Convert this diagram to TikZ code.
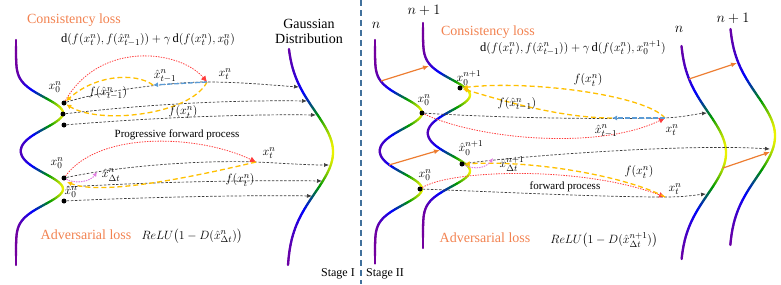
\documentclass[tikz,border=0pt]{standalone}
\usepackage{amsmath}
\usepackage{fontspec}
\setmainfont{Liberation Serif}
\usetikzlibrary{arrows.meta}
\definecolor{orgC}{RGB}{237,125,49}
\definecolor{orgT}{RGB}{242,130,80}
\definecolor{yelC}{RGB}{255,192,0}
\definecolor{redC}{RGB}{255,60,60}
\definecolor{bluC}{RGB}{91,155,213}
\definecolor{pnkC}{RGB}{225,125,225}
\definecolor{sepC}{RGB}{65,113,156}
\definecolor{blkC}{RGB}{60,60,60}
\newcommand{\setsegcolor}{%
  \pgfmathsetmacro{\myR}{(\myT<0.35) ? (0.45*(1-\myT/0.35)) : ((\myT<0.7) ? 0 : (0.92*(\myT-0.7)/0.3))}%
  \pgfmathsetmacro{\myG}{(\myT<0.35) ? 0 : ((\myT<0.7) ? (0.6*(\myT-0.35)/0.35) : (0.6+0.35*(\myT-0.7)/0.3))}%
  \pgfmathsetmacro{\myB}{(\myT<0.35) ? (0.62+0.38*\myT/0.35) : ((\myT<0.7) ? (1-(\myT-0.35)/0.35) : 0)}%
  \pgfmathsetmacro{\myR}{max(0,min(1,\myR))}%
  \pgfmathsetmacro{\myG}{max(0,min(1,\myG))}%
  \pgfmathsetmacro{\myB}{max(0,min(1,\myB))}%
  \definecolor{segc}{rgb}{\myR,\myG,\myB}%
}
% bimodal curve: #1 x0, #2 first nose y, #3 ytop, #4 ybottom
\newcommand{\bimodal}[4]{%
  \pgfmathtruncatemacro{\nseg}{(#4-#3)/1.5}%
  \foreach \k in {1,...,\nseg}{%
    \pgfmathsetmacro{\ya}{#3+(\k-1)*1.5}%
    \pgfmathsetmacro{\yb}{#3+\k*1.5}%
    \pgfmathsetmacro{\xa}{#1+47*(exp(max(-15,0-((\ya-#2)/22)^2))+exp(max(-15,0-((\ya-#2-76)/22)^2)))}%
    \pgfmathsetmacro{\xb}{#1+47*(exp(max(-15,0-((\yb-#2)/22)^2))+exp(max(-15,0-((\yb-#2-76)/22)^2)))}%
    \pgfmathsetmacro{\myT}{((\xa+\xb)/2-#1)/47}%
    \setsegcolor
    \draw[curvestyle, draw=segc] (\xa,\ya) -- (\xb,\yb);
  }%
}
% gaussian curve: #1 x0, #2 centre y, #3 ytop, #4 ybottom
\newcommand{\gausscurve}[4]{%
  \pgfmathtruncatemacro{\nseg}{(#4-#3)/1.5}%
  \foreach \k in {1,...,\nseg}{%
    \pgfmathsetmacro{\ya}{#3+(\k-1)*1.5}%
    \pgfmathsetmacro{\yb}{#3+\k*1.5}%
    \pgfmathsetmacro{\xa}{#1+46*exp(max(-15,0-((\ya-#2)/58)^2))}%
    \pgfmathsetmacro{\xb}{#1+46*exp(max(-15,0-((\yb-#2)/58)^2))}%
    \pgfmathsetmacro{\myT}{((\xa+\xb)/2-#1)/46}%
    \setsegcolor
    \draw[curvestyle, draw=segc] (\xa,\ya) -- (\xb,\yb);
  }%
}
\tikzset{
  curvestyle/.style={line width=2.3pt, line cap=round},
  blk/.style={draw=blkC, dash pattern=on 2.5pt off 1.6pt, line width=0.7pt, -{Latex[length=5pt,width=4pt]}},
  redd/.style={draw=redC, dash pattern=on 1.4pt off 1.2pt, line width=0.8pt, -{Latex[length=6pt,width=6pt]}},
  yel/.style={draw=yelC, dash pattern=on 5pt off 3pt, line width=1.3pt, -{Latex[length=5pt,width=5pt]}},
  blu/.style={draw=bluC, dash pattern=on 5pt off 2pt, line width=1.3pt, -{Latex[length=5pt,width=5pt]}},
  pnk/.style={draw=pnkC, dash pattern=on 1.5pt off 1pt, line width=1pt, -{Latex[length=4.5pt,width=4.5pt]}},
  org/.style={draw=orgC, line width=1.2pt, -{Latex[length=6pt,width=5pt]}},
  sepline/.style={draw=sepC, line width=1.6pt, dash pattern=on 6pt off 4pt},
  blackdot/.style={circle, fill=black, inner sep=0pt, minimum size=5pt},
  lbl/.style={font=\fontsize{13}{14}\selectfont, inner sep=0pt},
  small/.style={font=\fontsize{11}{12}\selectfont, inner sep=0pt},
  titleT/.style={font=\fontsize{14}{15}\selectfont, inner sep=0pt},
  formula/.style={font=\fontsize{12.5}{14}\selectfont, inner sep=0pt},
  nlbl/.style={font=\fontsize{14.5}{16}\selectfont, inner sep=0pt},
  stage/.style={font=\fontsize{12}{13}\selectfont, inner sep=0pt},
}
\begin{document}
\begin{tikzpicture}[x=1pt,y=-1pt]
\useasboundingbox (0,0) rectangle (781,284);

% ---------------- curves ----------------
\bimodal{16}{113}{40}{265}
\gausscurve{287}{152}{49}{265}
\bimodal{375}{113}{40}{264}
\bimodal{423}{95}{23}{249}
\gausscurve{680}{153}{46}{260}
\gausscurve{729}{136}{29}{245}

% ---------------- left panel ----------------
\node[titleT, text=orgT] (cl1) at (74,20) {Consistency loss};
\node[formula] (fm1) at (148,40) {$\mathrm{d}(f(x_t^n), f(\hat{x}_{t-1}^n)) + \gamma\,\mathrm{d}(f(x_t^n), x_0^n)$};
\node[titleT, align=center] (gd) at (309,31) {Gaussian\\Distribution};

\node[blackdot] (a1) at (64,103) {};
\node[blackdot] (a2) at (63,114) {};
\node[blackdot] (a3) at (64,125) {};
\coordinate (xt1) at (207,82);
\coordinate (xh1) at (153,85);
\coordinate (g1) at (299,87);
\coordinate (g2) at (307,101);
\coordinate (g3) at (316,115);

\draw[blk] (a1) .. controls (100,91) and (170,82) .. (xt1) .. controls (240,82) and (270,85) .. (g1);
\draw[blk] (a2) .. controls (150,104) and (230,100) .. (g2);
\draw[blk] (a3) .. controls (150,118) and (240,114) .. (g3);
\draw[redd] (a1) .. controls (100,40) and (180,50) .. (xt1);
\draw[yel] (xh1) .. controls (135,72) and (95,75) .. (a1);
\draw[yel] (xt1) .. controls (190,115) and (100,125) .. (a1);
\draw[blu] (xt1) -- (xh1);

\node[lbl] (lx01) at (55,87) {$x_0^n$};
\node[lbl] (lxh1) at (165,76) {$\hat{x}_{t-1}^n$};
\node[lbl] (lxt1) at (225,74) {$x_t^n$};
\node[lbl] (lfh1) at (108,93) {$f(\hat{x}_{t-1}^n)$};
\node[lbl] (lft1) at (183,112) {$f(x_t^n)$};
\node[small] (pfp) at (177,135) {Progressive forward process};

\node[blackdot] (b1) at (64,178) {};
\node[blackdot] (b3) at (64,201) {};
\coordinate (b2) at (67,187);
\coordinate (ye1) at (67,182);
\coordinate (xt2) at (256,162);
\coordinate (xd1) at (97,172);
\coordinate (g4) at (329,165);
\coordinate (g5) at (322,181);
\coordinate (g6) at (312,196);

\draw[blk] (b1) .. controls (120,166) and (200,160) .. (xt2) .. controls (280,163) and (305,165) .. (g4);
\draw[blk] (b2) .. controls (150,182) and (250,180) .. (g5);
\draw[blk] (b3) .. controls (150,197) and (250,195) .. (g6);
\draw[redd] (b1) .. controls (100,130) and (200,135) .. (xt2);
\draw[yel] (xt2) .. controls (180,180) and (100,195) .. (ye1);
\draw[pnk] (b1) .. controls (75,184) and (90,182) .. (xd1);

\node[lbl] (lx02) at (57,163) {$x_0^n$};
\node[lbl] (lxd1) at (111,175) {$\hat{x}_{\Delta t}^n$};
\node[lbl] (lxh02) at (71,192) {$\hat{x}_0^n$};
\node[lbl] (lxt2) at (269,153) {$x_t^n$};
\node[lbl] (lft2) at (240,180) {$f(x_t^n)$};

\node[titleT, text=orgT] (al1) at (86,235) {Adversarial loss};
\node[formula] (rl1) at (192,236) {$ReLU\big(1-D(\hat{x}_{\Delta t}^n)\big)$};

% ---------------- separator ----------------
\coordinate (sepT) at (361,0);
\coordinate (sepB) at (361,284);
\draw[sepline] (sepT) -- (sepB);
\node[stage, anchor=east] (st1) at (355,274) {Stage I};
\node[stage, anchor=west] (st2) at (366,274) {Stage II};

% ---------------- right panel ----------------
\node[nlbl] (ln1) at (376,25) {$n$};
\node[nlbl] (ln2) at (424,10) {$n+1$};
\node[nlbl] (ln3) at (679,29) {$n$};
\node[nlbl] (ln4) at (733,18) {$n+1$};

\coordinate (ra1) at (381,81);
\coordinate (ra2) at (429,66);
\coordinate (ra3) at (389,165);
\coordinate (ra4) at (440,150);
\coordinate (oa1) at (689,79);
\coordinate (oa2) at (737,63);
\coordinate (oa3) at (723,168);
\coordinate (oa4) at (770,152);
\draw[org] (ra1) -- (ra2);
\draw[org] (ra3) -- (ra4);
\draw[org] (oa1) -- (oa2);
\draw[org] (oa3) -- (oa4);

\node[titleT, text=orgT] (cl2) at (488,32) {Consistency loss};
\node[formula] (fm2) at (573,48) {$\mathrm{d}(f(x_t^n), f(\hat{x}_{t-1}^n)) + \gamma\,\mathrm{d}(f(x_t^n), x_0^{n+1})$};

\node[blackdot] (c1) at (460,88) {};
\node[blackdot] (c2) at (422,113) {};
\node[blackdot] (c3) at (462,164) {};
\node[blackdot] (c4) at (420,189) {};
\coordinate (xt3) at (665,118);
\coordinate (xh3) at (612,118);
\coordinate (g7) at (707,113);

\draw[blk] (c2) .. controls (520,119) and (620,119) .. (xt3) .. controls (685,117) and (695,114) .. (g7);
\draw[redd] (c2) .. controls (480,140) and (600,150) .. (xt3);
\draw[yel] (xt3) .. controls (645,95) and (530,80) .. (c1);
\draw[yel] (xh3) .. controls (560,118) and (500,100) .. (c1);
\draw[blu] (xt3) -- (xh3);

\node[lbl] (lx03) at (469,78) {$x_0^{n+1}$};
\node[lbl] (lx04) at (424,100) {$x_0^n$};
\node[lbl] (lfh3) at (517,104) {$f(\hat{x}_{t-1}^n)$};
\node[lbl] (lft3) at (588,80) {$f(x_t^n)$};
\node[lbl] (lxh3) at (606,131) {$\hat{x}_{t-1}^n$};
\node[lbl] (lxt3) at (672,130) {$x_t^n$};

\coordinate (xt4) at (665,197);
\coordinate (g8) at (770,149);
\coordinate (g9) at (706,194);
\coordinate (xd2) at (493,158);
\draw[blk] (c3) .. controls (500,158) and (680,143) .. (g8);
\draw[blk] (c4) .. controls (500,192) and (600,197) .. (xt4) .. controls (685,197) and (695,195) .. (g9);
\draw[redd] (c4) .. controls (450,170) and (580,165) .. (xt4);
\draw[yel] (xt4) .. controls (630,178) and (540,160) .. (c3);
\draw[pnk] (c3) .. controls (475,170) and (486,168) .. (xd2);

\node[lbl] (lxh04) at (471,148) {$\hat{x}_0^{n+1}$};
\node[lbl] (lxd2) at (512,164) {$\hat{x}_{\Delta t}^{n+1}$};
\node[lbl] (lx05) at (425,175) {$x_0^n$};
\node[lbl] (lft4) at (639,172) {$f(x_t^n)$};
\node[lbl] (lxt4) at (675,189) {$x_t^n$};
\node[small] (fp) at (565,187) {forward process};

\node[titleT, text=orgT] (al2) at (485,238) {Adversarial loss};
\node[formula] (rl2) at (604,240) {$ReLU\big(1-D(\hat{x}_{\Delta t}^{n+1})\big)$};
\end{tikzpicture}
\end{document}
